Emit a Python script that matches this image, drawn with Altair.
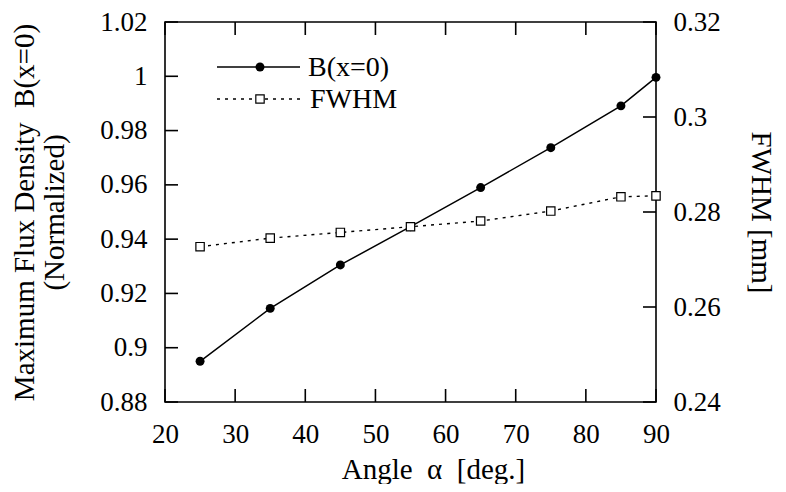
import altair as alt
import pandas as pd

# ---- data ----
angle = [25, 35, 45, 55, 65, 75, 85, 90]
b_norm = [0.895, 0.9145, 0.9305, 0.9446, 0.959, 0.9737, 0.9891, 0.9996]
fwhm = [0.2727, 0.2745, 0.2757, 0.2769, 0.2781, 0.2802, 0.2832, 0.2834]

x_ticks = [20, 30, 40, 50, 60, 70, 80, 90]
left_ticks = [0.88, 0.90, 0.92, 0.94, 0.96, 0.98, 1.00, 1.02]
right_ticks = [0.24, 0.26, 0.28, 0.30, 0.32]

series_labels = ["B(x=0)", "FWHM"]

all_df = pd.concat([
    pd.DataFrame({"kind": "data", "angle": angle, "B": b_norm, "FWHM": fwhm}),
    pd.DataFrame({"kind": "xt", "angle": x_ticks}),
    pd.DataFrame({"kind": "lt", "B": left_ticks}),
    pd.DataFrame({"kind": "rt", "FWHM": right_ticks}),
], ignore_index=True)
one = pd.DataFrame({"k": [0]})

FONT = "Liberation Serif"
W, H = 491, 380
TK = 13

x_scale = alt.Scale(domain=[20, 90], nice=False, zero=False)
yl_scale = alt.Scale(domain=[0.88, 1.02], nice=False, zero=False)
yr_scale = alt.Scale(domain=[0.24, 0.32], nice=False, zero=False)

x_axis = alt.Axis(
    values=x_ticks, format="d", title="Angle\u00a0 α\u00a0 [deg.]",
    ticks=False, domain=False, grid=False, labelFlush=False,
    labelFont=FONT, labelFontSize=27, labelColor="black",
    labelBaseline="alphabetic", labelPadding=40,
    titleFont=FONT, titleFontSize=29, titleFontWeight="normal", titleColor="black",
    titleX=268, titleY=76, titleBaseline="alphabetic", titleAlign="center",
)
yl_axis = alt.Axis(
    orient="left", values=left_ticks, format="~g",
    title=["Maximum Flux Density\u00a0 B(x=0)", "\u00a0" * 10 + "(Normalized)"],
    ticks=False, domain=False, grid=False, labelFlush=False,
    labelFont=FONT, labelFontSize=27, labelColor="black", labelPadding=18,
    titleFont=FONT, titleFontSize=29, titleFontWeight="normal", titleColor="black",
    titleAngle=270, titleX=-132, titleY=190, titleBaseline="alphabetic",
    titleAlign="center", titleLineHeight=30,
)
yr_axis = alt.Axis(
    orient="right", values=right_ticks, format="~g",
    title="FWHM [mm]",
    ticks=False, domain=False, grid=False, labelFlush=False,
    labelFont=FONT, labelFontSize=27, labelColor="black", labelPadding=17,
    titleFont=FONT, titleFontSize=29, titleFontWeight="normal", titleColor="black",
    titleAngle=90, titleX=95, titleY=190, titleBaseline="alphabetic",
    titleAlign="center",
)

X = alt.X("angle:Q", scale=x_scale, axis=x_axis)
YL = alt.Y("B:Q", scale=yl_scale, axis=yl_axis)
YL0 = alt.Y("B:Q", scale=yl_scale, axis=None)
YR = alt.Y("FWHM:Q", scale=yr_scale, axis=yr_axis)
YR0 = alt.Y("FWHM:Q", scale=yr_scale, axis=None)

base = alt.Chart(all_df)
data = base.transform_filter(alt.datum.kind == "data")
line_b = data.mark_line(color="black", strokeWidth=1.5).encode(x=X, y=YL)
pts_b = data.mark_point(shape="circle", filled=True, color="black", size=80, opacity=1).encode(x=X, y=YL0)
line_f = data.mark_line(color="black", strokeWidth=1.4, strokeDash=[3, 5]).encode(x=X, y=YR)
pts_f = data.mark_point(shape="square", filled=True, fill="white", stroke="black",
                        strokeWidth=1.2, size=70, opacity=1).encode(x=X, y=YR0)

# inward tick marks on all four sides
ltick = base.transform_filter(alt.datum.kind == "lt").mark_rule(color="#000000", strokeWidth=1.6).encode(
    y=YL0, x=alt.value(0), x2=alt.value(TK))
rtick = base.transform_filter(alt.datum.kind == "rt").mark_rule(color="#000000", strokeWidth=1.6).encode(
    y=YR0, x=alt.value(W - TK), x2=alt.value(W))
xtick_b = base.transform_filter(alt.datum.kind == "xt").mark_rule(color="#000000", strokeWidth=1.6).encode(
    x=X, y=alt.value(H - TK), y2=alt.value(H))
xtick_t = base.transform_filter(alt.datum.kind == "xt").mark_rule(color="#000000", strokeWidth=1.6).encode(
    x=X, y=alt.value(0), y2=alt.value(TK))

# ---- manual legend ----
lg = alt.Chart(one)
leg_line_b = lg.mark_rule(color="black", strokeWidth=1.5).encode(
    x=alt.value(52), x2=alt.value(135), y=alt.value(45))
leg_pt_b = lg.mark_point(shape="circle", filled=True, color="black", size=80, opacity=1).encode(
    x=alt.value(95), y=alt.value(45))
leg_txt_b = lg.mark_text(align="left", baseline="alphabetic", font=FONT, fontSize=28, color="black").encode(
    x=alt.value(143), y=alt.value(54), text=alt.value(series_labels[0]))
leg_line_f = lg.mark_rule(color="black", strokeWidth=1.4, strokeDash=[3, 5]).encode(
    x=alt.value(52), x2=alt.value(135), y=alt.value(77))
leg_pt_f = lg.mark_point(shape="square", filled=True, fill="white", stroke="black",
                         strokeWidth=1.2, size=70, opacity=1).encode(
    x=alt.value(95), y=alt.value(77))
leg_txt_f = lg.mark_text(align="left", baseline="alphabetic", font=FONT, fontSize=28, color="black").encode(
    x=alt.value(145), y=alt.value(86), text=alt.value(series_labels[1]))

chart = alt.layer(
    line_b, line_f, xtick_b, xtick_t, ltick, rtick, pts_b, pts_f,
    leg_line_b, leg_line_f, leg_pt_b, leg_pt_f, leg_txt_b, leg_txt_f
).resolve_scale(y="independent").properties(
    width=W, height=H,
    autosize=alt.AutoSizeParams(type="none"),
    padding={"left": 157, "top": 14, "right": 122, "bottom": 82},
    background="white",
).configure(font=FONT).configure_axis(labelFont=FONT, titleFont=FONT).configure_text(
    font=FONT).configure_view(stroke="black", strokeWidth=1.6)

chart.save("out.html", embed_options={"renderer": "svg", "actions": False})
